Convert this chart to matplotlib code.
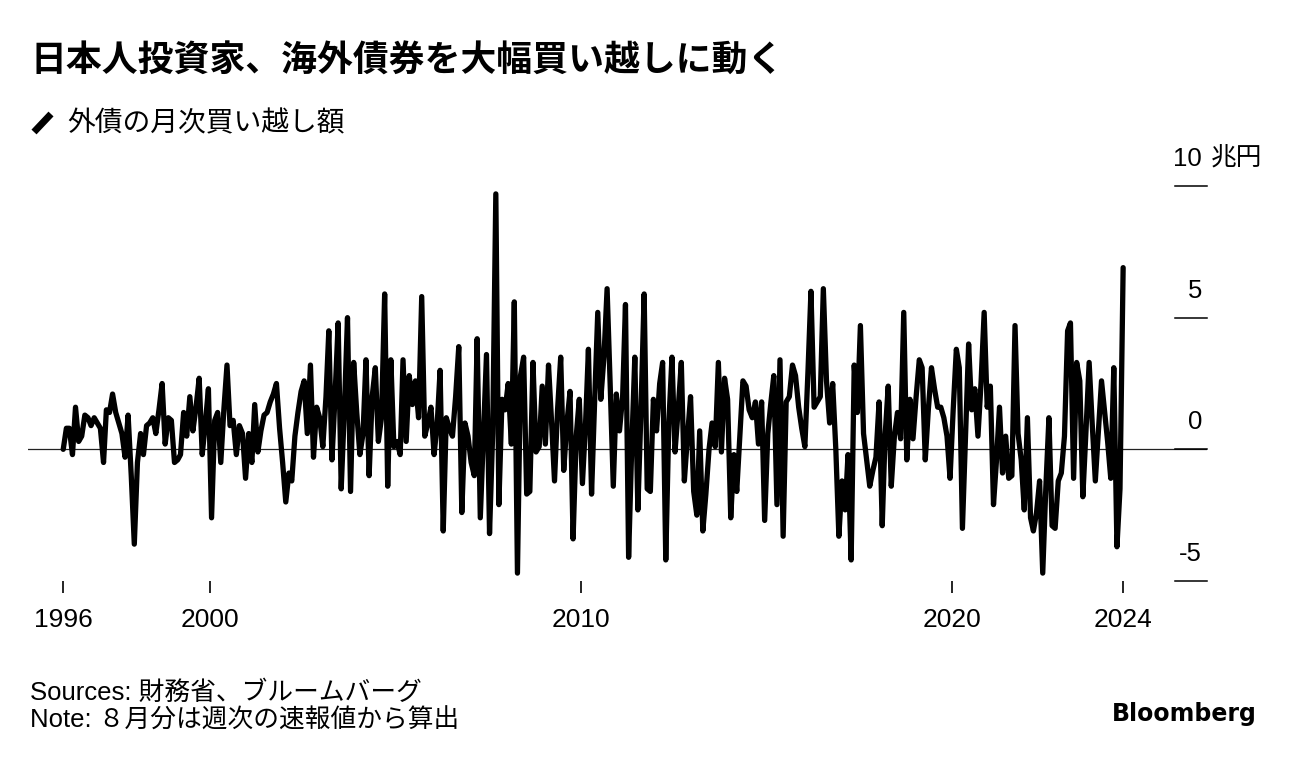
import matplotlib
matplotlib.use("Agg")
import matplotlib.pyplot as plt
import matplotlib.transforms as mtransforms
from matplotlib.lines import Line2D
import pandas as pd

plt.rcParams['font.family'] = ['Liberation Sans', 'Noto Sans CJK JP', 'DejaVu Sans']

# monthly net purchases of foreign bonds, trillion yen (Jan 1996 - Aug 2024)
months = pd.date_range('1996-01-01', '2024-08-01', freq='MS') + pd.Timedelta(days=14)
net_buy = [
    0.0, 0.8, 0.8, -0.2, 1.6, 0.3, 0.5, 1.3, 1.2, 0.9, 1.2, 1.0,
    0.8, -0.5, 1.5, 1.4, 2.1, 1.4, 1.0, 0.6, -0.3, 1.3, -1.0, -3.6,
    -0.5, 0.6, -0.2, 0.9, 1.0, 1.2, 0.6, 1.5, 2.5, 0.2, 1.2, 1.1,
    -0.5, -0.4, -0.2, 1.4, 0.5, 2.0, 0.7, 1.6, 2.7, -0.2, 1.0, 2.3,
    -2.6, 1.1, 1.4, -0.5, 1.5, 3.2, 0.9, 1.1, -0.2, 0.9, 0.6, -1.1,
    0.6, -0.5, 1.7, -0.1, 0.7, 1.3, 1.4, 1.8, 2.1, 2.5, 0.8, -0.5,
    -2.0, -0.9, -1.2, 0.5, 1.4, 2.2, 2.6, 0.6, 3.2, -0.3, 1.6, 1.2,
    0.1, 2.0, 4.5, -0.4, 2.0, 4.8, -1.5, 1.5, 5.0, -1.6, 3.3, 1.4,
    -0.2, 0.6, 3.4, -1.0, 2.0, 3.1, 0.3, 1.2, 5.9, -1.4, 3.4, 0.1,
    0.3, -0.2, 3.4, 0.3, 2.8, 1.7, 2.6, 1.2, 5.8, 0.5, 1.0, 1.6,
    -0.2, 1.0, 3.0, -3.1, 1.2, 0.8, 0.5, 2.0, 3.9, -2.4, 1.0, 0.5,
    -0.5, -1.0, 4.2, -2.6, 0.5, 3.6, -3.2, 0.6, 9.7, -2.1, 1.9, 1.5,
    2.5, 0.2, 5.6, -4.7, 2.8, 3.5, -1.7, -1.6, 3.3, -0.1, 0.1, 2.4,
    0.2, 3.2, 1.2, -1.2, 1.5, 3.5, -0.8, 1.0, 2.2, -3.4, 0.5, 1.9,
    -1.3, 1.0, 3.8, -1.7, 1.8, 5.2, 1.9, 3.5, 6.1, 2.5, -1.4, 2.1,
    0.7, 2.0, 5.5, -4.1, 0.0, 3.5, -2.3, 1.5, 5.9, -1.5, -1.6, 1.9,
    0.7, 2.5, 3.3, -4.2, 1.0, 3.5, -0.1, 1.5, 3.3, -1.2, 0.5, 2.0,
    -1.6, -2.5, 0.7, -3.1, -1.7, 0.0, 1.0, 0.1, 3.3, -0.1, 2.7, 1.9,
    -2.6, -0.2, -1.6, 0.5, 2.6, 2.4, 1.5, 1.2, 1.8, 0.2, 1.8, -2.7,
    0.6, 1.8, 2.8, -2.1, 3.4, -3.3, 1.8, 2.0, 3.2, 2.8, 1.6, 0.8,
    0.1, 3.0, 6.0, 1.6, 1.8, 2.0, 6.1, 2.6, 1.0, 2.5, 0.0, -3.3,
    -1.2, -2.3, -0.2, -4.2, 3.2, 1.4, 4.7, 0.6, -0.4, -1.4, -0.8, -0.3,
    1.8, -2.9, 0.5, 2.4, -1.4, 0.5, 1.4, 0.4, 5.2, -0.4, 1.9, 0.4,
    2.0, 3.4, 3.1, -0.4, 1.5, 3.1, 2.3, 1.6, 1.6, 1.2, 0.5, -1.1,
    1.5, 3.8, 3.1, -3.0, 0.5, 4.0, 1.5, 2.3, 0.5, 2.5, 5.2, 1.6,
    2.4, -2.1, -0.5, 1.6, -0.9, 0.5, -1.1, -1.0, 4.7, 0.6, -0.4, -2.3,
    1.2, -2.6, -3.1, -2.4, -1.2, -4.7, -1.5, 1.2, -2.9, -3.0, -1.2, -0.9,
    0.5, 4.5, 4.8, -1.1, 3.3, 2.6, -1.8, 0.7, 3.3, 1.0, -1.2, 0.7,
    2.6, 1.4, 0.3, -1.1, 3.1, -3.7, -1.5, 6.9,
]
y_ticks = [10, 5, 0, -5]
y_labels = ['10', '5', '0', '-5']
x_tick_dates = [months[0], pd.Timestamp('2000-01-01'), pd.Timestamp('2010-01-01'),
                pd.Timestamp('2020-01-01'), months[-1]]
x_tick_labels = ['1996', '2000', '2010', '2020', '2024']

W, H = 1296, 758
fig = plt.figure(figsize=(W / 100, H / 100), dpi=100)
ax = fig.add_axes([28 / W, 1 - 581 / H, 1179 / W, (581 - 186) / H])

ax.plot(months, net_buy, color='black', lw=3.8, solid_joinstyle='round',
        solid_capstyle='round', clip_on=False, zorder=3)
ax.axhline(0, color='#222222', lw=0.9, zorder=2)

ax.set_ylim(-5, 10)
ax.set_xlim(months[0] - pd.Timedelta(days=347), months[0] + pd.Timedelta(days=11266))
for s in ax.spines.values():
    s.set_visible(False)
ax.set_yticks([])
ax.set_xticks(x_tick_dates)
ax.set_xticklabels(x_tick_labels, fontsize=19)
ax.tick_params(axis='x', length=8.5, width=1.2, color='black', pad=11)

# right-hand value dashes and labels
trans = mtransforms.blended_transform_factory(ax.transAxes, ax.transData)
for v, lab in zip(y_ticks, y_labels):
    ax.plot([1 - 32 / 1179, 1.0], [v, v], transform=trans, color='black',
            lw=1.1, clip_on=False)
    off = mtransforms.offset_copy(trans, fig=fig, x=-3, y=27, units='dots')
    ax.text(0.9985, v, lab, transform=off, ha='right', va='center', fontsize=18.5)
off10 = mtransforms.offset_copy(trans, fig=fig, x=6, y=27, units='dots')
ax.text(0.9985, 10, '兆円', transform=off10, ha='left', va='center', fontsize=18.5)

# title, subtitle with line icon
fig.text(30 / W, 1 - 62 / H, '日本人投資家、海外債券を大幅買い越しに動く',
         fontsize=25.8, fontweight='bold', ha='left', va='center')
fig.add_artist(Line2D([34 / W, 51 / W], [1 - 132 / H, 1 - 114 / H],
                      transform=fig.transFigure, color='black', lw=5,
                      solid_capstyle='butt'))
fig.text(67 / W, 1 - 124 / H, '外債の月次買い越し額', fontsize=20,
         ha='left', va='center')

# footer
fig.text(30 / W, 1 - 693 / H, 'Sources: 財務省、ブルームバーグ', fontsize=18.5,
         ha='left', va='center')
fig.text(30 / W, 1 - 721 / H, 'Note: ８月分は週次の速報値から算出', fontsize=18.5,
         ha='left', va='center')
fig.text(1257 / W, 1 - 714 / H, 'Bloomberg', fontsize=17, fontweight='bold',
         family=['DejaVu Sans'], ha='right', va='center')

fig.savefig('out.png', dpi=100)
